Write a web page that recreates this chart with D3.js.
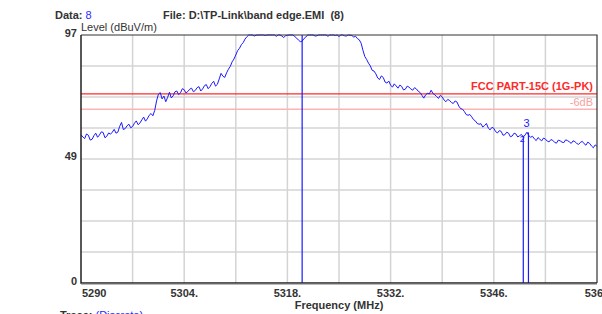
<!DOCTYPE html>
<html lang="en">
<head>
    <meta charset="UTF-8">
    <script src="https://cdn.jsdelivr.net/npm/d3@7"></script>
    <title>Band edge</title>
    <style>
        body { margin: 0; background: white; }
        svg { display: block; font-family: "Liberation Sans", Arial, sans-serif; }
        .lbl { font-size: 11px; font-weight: bold; fill: #333; }
    </style>
</head>
<body>
    <script>
        /*------------------- data --------------------*/
        // trace start / step (MHz) and levels in dBuV/m
        const freqStart = 5290
        const freqStep = 0.25
        const levels = [
            58.0, 57.1, 56.5, 58.3, 57.8, 55.9, 56.2, 57.6, 58.6, 57.0, 57.9, 59.1, 58.9, 56.8, 57.4, 58.7, 58.2, 59.0, 60.1, 58.6,
            59.0, 61.3, 62.8, 60.0, 60.4, 61.5, 62.1, 60.7, 61.2, 62.5, 63.4, 61.9, 62.6, 63.8, 64.9, 63.3, 64.2, 65.6, 66.3, 65.4,
            67.5, 71.2, 73.8, 74.5, 72.0, 73.1, 70.9, 72.6, 74.6, 72.4, 73.2, 74.8, 75.1, 73.7, 74.4, 76.0, 75.6, 74.3, 74.9, 75.8,
            76.2, 74.8, 75.3, 76.4, 76.8, 75.1, 75.9, 77.2, 77.6, 76.0, 76.8, 78.1, 78.9, 77.0, 77.7, 79.8, 82.0, 80.9, 80.4, 82.2,
            83.6, 84.7, 86.5, 87.6, 89.2, 90.9, 91.8, 93.2, 94.0, 95.4, 96.3, 97.0, 97.0, 97.0, 96.6, 96.9, 97.0, 97.0, 97.0, 97.0,
            96.8, 97.0, 97.0, 97.0, 97.0, 97.0, 96.5, 97.0, 97.0, 96.6, 96.0, 96.7, 96.9, 97.0, 97.0, 97.0, 96.4, 95.8, 95.0, 94.4,
            94.6, 95.6, 96.2, 97.0, 97.0, 97.0, 97.0, 96.6, 96.7, 97.0, 97.0, 97.0, 97.0, 97.0, 96.5, 97.0, 97.0, 97.0, 96.8, 97.0,
            96.4, 97.0, 97.0, 96.7, 96.6, 97.0, 96.9, 96.8, 96.2, 96.5, 95.6, 95.1, 93.8, 91.0, 88.6, 87.4, 86.0, 84.9, 83.2, 82.9,
            81.8, 80.2, 79.6, 81.0, 80.4, 78.6, 78.2, 79.0, 77.4, 76.6, 77.9, 77.1, 76.2, 77.4, 76.9, 75.5, 75.8, 77.0, 76.6, 75.9,
            75.4, 76.4, 75.9, 75.0, 74.5, 73.4, 72.3, 73.6, 74.2, 74.0, 75.4, 74.1, 73.6, 72.9, 72.2, 73.4, 72.8, 71.6, 70.9, 71.8,
            71.4, 70.6, 70.2, 71.2, 70.8, 69.2, 68.2, 68.0, 67.1, 65.9, 65.6, 65.9, 65.0, 63.9, 63.4, 62.4, 62.1, 62.3, 61.0, 61.6,
            62.4, 60.6, 59.9, 60.9, 60.5, 59.2, 58.7, 59.6, 59.3, 57.8, 58.0, 59.0, 58.6, 57.2, 57.5, 58.6, 58.3, 57.1, 57.6, 58.1,
            57.1, 57.9, 59.0, 57.6, 57.0, 57.4, 56.4, 55.7, 56.9, 56.2, 55.6, 56.7, 56.3, 55.5, 55.2, 56.1, 55.8, 55.0, 54.7, 55.9,
            55.6, 55.1, 54.9, 56.0, 55.7, 55.2, 54.6, 55.6, 55.3, 54.6, 54.2, 55.0, 55.4, 54.5, 53.9, 55.1, 54.6, 53.6, 52.9, 54.0,
            53.5
        ]
        const freqs = levels.map((d, i) => freqStart + i * freqStep)

        const xTicks = [5290, 5304, 5318, 5332, 5346, 5360]
        const xTickLabels = ["5290", "5304.", "5318.", "5332.", "5346.", "5360"]
        const yTicks = [97, 49, 0]

        const limitLevel = 74       // FCC PART-15C (1G-PK)
        const marginLevel = 68      // -6dB

        const markerIds = [1, 2, 3]
        const markerFreqs = [5320.0, 5350.0, 5350.7]
        const markerLevels = [97.0, 57.6, 58.9]

        /*------------------- layout --------------------*/
        const W = 602, H = 314
        const pLeft = 81, pRight = 597, pTop = 35, pBottom = 283

        const svg = d3.select("body").append("svg")
            .attr("width", W)
            .attr("height", H)

        const x = d3.scaleLinear().domain([5290, 5360]).range([pLeft, pRight])
        const y = d3.scaleLinear().domain([0, 97]).range([pBottom, pTop]).clamp(true)

        // grid
        svg.append("g").selectAll("line")
            .data(d3.range(1, 10).map(i => 5290 + i * 7))
            .enter().append("line")
            .attr("x1", d => x(d)).attr("x2", d => x(d))
            .attr("y1", pTop).attr("y2", pBottom)
            .attr("stroke", "#d4d4d4").attr("stroke-width", 1.5)

        svg.append("g").selectAll("line")
            .data(d3.range(1, 8).map(i => i * 97 / 8))
            .enter().append("line")
            .attr("x1", pLeft).attr("x2", pRight)
            .attr("y1", d => y(d)).attr("y2", d => y(d))
            .attr("stroke", "#d4d4d4").attr("stroke-width", 1.5)

        // limit lines
        svg.append("line")
            .attr("x1", pLeft).attr("x2", pRight)
            .attr("y1", y(marginLevel)).attr("y2", y(marginLevel))
            .attr("stroke", "#ffb4b4").attr("stroke-width", 1.5)
        svg.append("line")
            .attr("x1", pLeft).attr("x2", pRight)
            .attr("y1", y(limitLevel)).attr("y2", y(limitLevel))
            .attr("stroke", "#ff2a2a").attr("stroke-width", 1.2)

        svg.append("text")
            .attr("x", 593).attr("y", y(limitLevel) - 4)
            .attr("text-anchor", "end")
            .style("font-size", "11px").style("font-weight", "bold")
            .attr("fill", "#ff2a2a")
            .text("FCC PART-15C (1G-PK)")
        svg.append("text")
            .attr("x", 593).attr("y", y(marginLevel) - 3)
            .attr("text-anchor", "end")
            .style("font-size", "11px")
            .attr("fill", "#f7a0a0")
            .text("-6dB")

        // trace
        const line = d3.line()
            .x((d, i) => x(freqs[i]))
            .y(d => y(d))
        svg.append("path")
            .datum(levels)
            .attr("d", line)
            .attr("fill", "none")
            .attr("stroke", "#1a1aff")
            .attr("stroke-width", 1)

        // markers
        svg.append("g").selectAll("line")
            .data(markerIds)
            .enter().append("line")
            .attr("x1", (d, i) => x(markerFreqs[i])).attr("x2", (d, i) => x(markerFreqs[i]))
            .attr("y1", (d, i) => y(markerLevels[i])).attr("y2", pBottom)
            .attr("stroke", "#1a1aff").attr("stroke-width", 1.2)
        svg.append("text")
            .attr("x", x(markerFreqs[2]) - 2).attr("y", y(markerLevels[2]) - 5)
            .attr("text-anchor", "middle")
            .style("font-size", "11px")
            .attr("fill", "#1a1aff")
            .text(markerIds[2])
        svg.append("text")
            .attr("x", x(markerFreqs[1]) - 1).attr("y", y(markerLevels[1]) + 6)
            .attr("text-anchor", "middle")
            .style("font-size", "9px")
            .attr("fill", "#1a1aff")
            .text(markerIds[1])

        // frame
        svg.append("path")
            .attr("d", `M${pLeft},${pTop}H${pRight}V${pBottom}`)
            .attr("fill", "none").attr("stroke", "#333").attr("stroke-width", 1.2)
        svg.append("path")
            .attr("d", `M${pLeft},${pTop}V${pBottom}H${pRight}`)
            .attr("fill", "none").attr("stroke", "#222").attr("stroke-width", 1.5)
        svg.append("line")
            .attr("x1", pLeft).attr("x2", pRight)
            .attr("y1", pBottom + 1).attr("y2", pBottom + 1)
            .attr("stroke", "#777").attr("stroke-width", 1)

        // tick labels
        svg.append("g").selectAll("text")
            .data(yTicks)
            .enter().append("text")
            .attr("class", "lbl")
            .attr("x", 77)
            .attr("y", d => y(d) + 2)
            .attr("text-anchor", "end")
            .text(d => d)

        svg.append("g").selectAll("text")
            .data(xTicks)
            .enter().append("text")
            .attr("class", "lbl")
            .attr("x", (d, i) => i === 0 ? x(d) + 1 : x(d))
            .attr("y", 297)
            .attr("text-anchor", (d, i) => i === 0 ? "start" : "middle")
            .text((d, i) => xTickLabels[i])

        // titles
        svg.append("text").attr("class", "lbl")
            .attr("x", 339).attr("y", 309)
            .attr("text-anchor", "middle")
            .text("Frequency (MHz)")

        svg.append("text").attr("class", "lbl")
            .attr("x", 81).attr("y", 31)
            .style("font-weight", "normal").attr("fill", "#222")
            .text("Level (dBuV/m)")

        const data = svg.append("text").attr("class", "lbl").attr("x", 55).attr("y", 19)
        data.append("tspan").text("Data: ")
        data.append("tspan").attr("fill", "#2a2aff").style("font-weight", "normal").text("8")

        svg.append("text").attr("class", "lbl")
            .attr("x", 163).attr("y", 19)
            .attr("xml:space", "preserve")
            .text("File: D:\\TP-Link\\band edge.EMI  (8)")

        const trace = svg.append("text").attr("class", "lbl").attr("x", 60).attr("y", 319)
        trace.append("tspan").text("Trace: ")
        trace.append("tspan").attr("fill", "#2a2aff").style("font-weight", "normal").text("(Discrete)")
    </script>
</body>
</html>
